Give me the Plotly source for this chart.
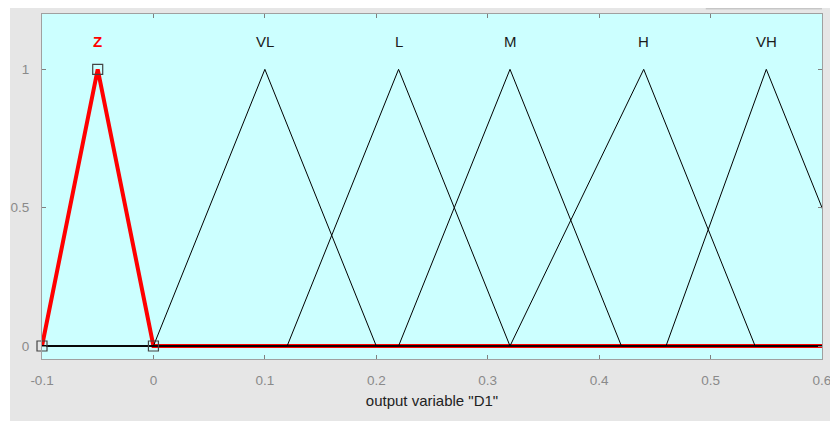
import plotly.graph_objects as go

# Funciones de pertenencia triangulares (a, b, c) de la variable de salida D1
names = ["Z", "VL", "L", "M", "H", "VH"]
mf_a = [-0.1, 0.0, 0.12, 0.22, 0.32, 0.46]
mf_b = [-0.05, 0.1, 0.22, 0.32, 0.44, 0.55]
mf_c = [0.0, 0.2, 0.32, 0.42, 0.54, 0.65]
selected = "Z"

x_min, x_max = -0.1, 0.6
x_ticks = [-0.1, 0, 0.1, 0.2, 0.3, 0.4, 0.5, 0.6]
y_ticks = [0, 0.5, 1]

fig = go.Figure()

# curvas (cada MF se dibuja sobre todo el rango)
order = [i for i, n in enumerate(names) if n == selected] + [i for i, n in enumerate(names) if n != selected]
for i in order:
    a, b, c = mf_a[i], mf_b[i], mf_c[i]
    xs = [x_min, a, b, c, max(c, x_max)]
    ys = [0, 0, 1, 0, 0]
    sel = names[i] == selected
    fig.add_trace(go.Scatter(
        x=xs, y=ys, mode="lines",
        line=dict(color="#ff0000" if sel else "#000000", width=4 if sel else 1),
        showlegend=False, hoverinfo="skip"))

# puntos de control de la MF seleccionada
k = names.index(selected)
fig.add_trace(go.Scatter(
    x=[mf_a[k], mf_b[k], mf_c[k]], y=[0, 1, 0], mode="markers",
    marker=dict(symbol="square-open", size=10, color="#444444", line=dict(width=1.2)),
    showlegend=False, hoverinfo="skip", cliponaxis=False))

# etiquetas sobre los picos
for i, n in enumerate(names):
    sel = n == selected
    fig.add_annotation(
        x=mf_b[i], y=1.1, text="<b>%s</b>" % n if sel else n, showarrow=False,
        font=dict(family="Liberation Sans, Arial", size=15, color="#ff0000" if sel else "#1a1a1a"))

# borde blanco a la izquierda y linea gris arriba
fig.add_shape(type="rect", xref="paper", yref="paper", x0=-0.1, x1=-0.041, y0=-0.3, y1=1.1,
              fillcolor="white", line=dict(width=0), layer="below")
fig.add_shape(type="line", xref="paper", yref="paper", x0=0.851, x1=1.0, y0=1.015, y1=1.015,
              line=dict(color="#b8b8b8", width=1))

axis_common = dict(showline=True, linecolor="#a0a0a0", linewidth=1, mirror="ticks",
                   ticks="inside", ticklen=4, tickcolor="#808080", showgrid=False, zeroline=False,
                   automargin=False,
                   tickfont=dict(family="Liberation Sans, Arial", size=13.5, color="#8a8a8a"))

fig.update_xaxes(range=[x_min, x_max], tickvals=x_ticks, ticktext=[str(t) for t in x_ticks],
                 ticklabelstandoff=9,
                 title=dict(text='output variable "D1"', standoff=8,
                            font=dict(family="Liberation Sans, Arial", size=15, color="#222222")),
                 **axis_common)
fig.update_yaxes(range=[-0.047, 1.2], tickvals=y_ticks, ticktext=["0", "0.5", "1"],
                 ticklabelstandoff=9, **axis_common)

fig.update_layout(
    width=826, height=413,
    margin=dict(l=34, r=12, t=6, b=62),
    paper_bgcolor="#e6e6e6", plot_bgcolor="#ccffff",
)

fig.write_html("out.html")
